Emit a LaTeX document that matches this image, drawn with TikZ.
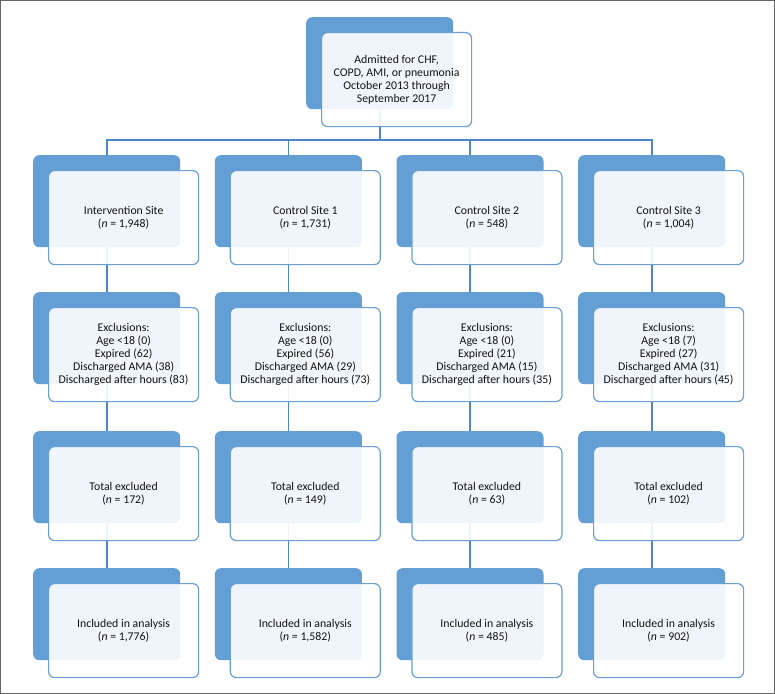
\documentclass[tikz,border=0pt]{standalone}
\usepackage{fontspec}
\setmainfont{Carlito}
\definecolor{backblue}{RGB}{99,158,212}
\definecolor{edgeblue}{RGB}{106,159,212}
\definecolor{linkblue}{RGB}{79,135,197}
\definecolor{txt}{RGB}{20,20,20}
\begin{document}
\begin{tikzpicture}[x=1bp,y=-1bp,
  backbox/.style={rectangle,rounded corners=6bp,fill=backblue,draw=none,
    minimum width=147bp,minimum height=92bp,inner sep=0pt,anchor=north west},
  frontbox/.style={rectangle,rounded corners=6bp,fill=white,fill opacity=0.9,
    text opacity=1,draw=edgeblue,line width=1.2bp,
    minimum width=150bp,minimum height=94bp,inner sep=0pt,anchor=north west,
    align=center,text=txt,font=\fontsize{11.8bp}{12.9bp}\selectfont},
  link/.style={draw=linkblue,line width=1.8bp}]
\useasboundingbox (0,0) rectangle (775,694);
\draw[gray!80!black,line width=1bp] (0.5,0.5) rectangle (774.5,693.5);
% back boxes
\node[backbox] (topb) at (306,17) {};
\foreach \c/\x in {1/33,2/214.7,3/396.3,4/578}{
  \foreach \r/\y in {1/155,2/292,3/431,4/568}{
    \node[backbox] (b\c\r) at (\x,\y) {};
  }
}
% connectors
\coordinate (bus) at (0,140);
\draw[link] (topb.south) -- (topb.south |- bus);
\draw[link] (b11.north) -- (b11.north |- bus) -- (b41.north |- bus) -- (b41.north);
\draw[link] (b21.north) -- (b21.north |- bus);
\draw[link] (b31.north) -- (b31.north |- bus);
\foreach \c in {1,2,3,4}{
  \draw[link] (b\c1.south) -- (b\c2.north);
  \draw[link] (b\c2.south) -- (b\c3.north);
  \draw[link] (b\c3.south) -- (b\c4.north);
}
% front boxes
\node[frontbox] (top) at (321,32) {Admitted for CHF,\\COPD, AMI, or pneumonia\\October 2013 through\\September 2017};
\node[frontbox] (f11) at (48,170) {Intervention Site\\(\textit{n} = 1,948)};
\node[frontbox] (f21) at (229.7,170) {Control Site 1\\(\textit{n} = 1,731)};
\node[frontbox] (f31) at (411.3,170) {Control Site 2\\(\textit{n} = 548)};
\node[frontbox] (f41) at (593,170) {Control Site 3\\(\textit{n} = 1,004)};
\node[frontbox] (f12) at (48,307) {Exclusions:\\Age <18 (0)\\Expired (62)\\Discharged AMA (38)\\Discharged after hours (83)};
\node[frontbox] (f22) at (229.7,307) {Exclusions:\\Age <18 (0)\\Expired (56)\\Discharged AMA (29)\\Discharged after hours (73)};
\node[frontbox] (f32) at (411.3,307) {Exclusions:\\Age <18 (0)\\Expired (21)\\Discharged AMA (15)\\Discharged after hours (35)};
\node[frontbox] (f42) at (593,307) {Exclusions:\\Age <18 (7)\\Expired (27)\\Discharged AMA (31)\\Discharged after hours (45)};
\node[frontbox] (f13) at (48,446) {Total excluded\\(\textit{n} = 172)};
\node[frontbox] (f23) at (229.7,446) {Total excluded\\(\textit{n} = 149)};
\node[frontbox] (f33) at (411.3,446) {Total excluded\\(\textit{n} = 63)};
\node[frontbox] (f43) at (593,446) {Total excluded\\(\textit{n} = 102)};
\node[frontbox] (f14) at (48,583) {Included in analysis\\(\textit{n} = 1,776)};
\node[frontbox] (f24) at (229.7,583) {Included in analysis\\(\textit{n} = 1,582)};
\node[frontbox] (f34) at (411.3,583) {Included in analysis\\(\textit{n} = 485)};
\node[frontbox] (f44) at (593,583) {Included in analysis\\(\textit{n} = 902)};
\end{tikzpicture}
\end{document}
